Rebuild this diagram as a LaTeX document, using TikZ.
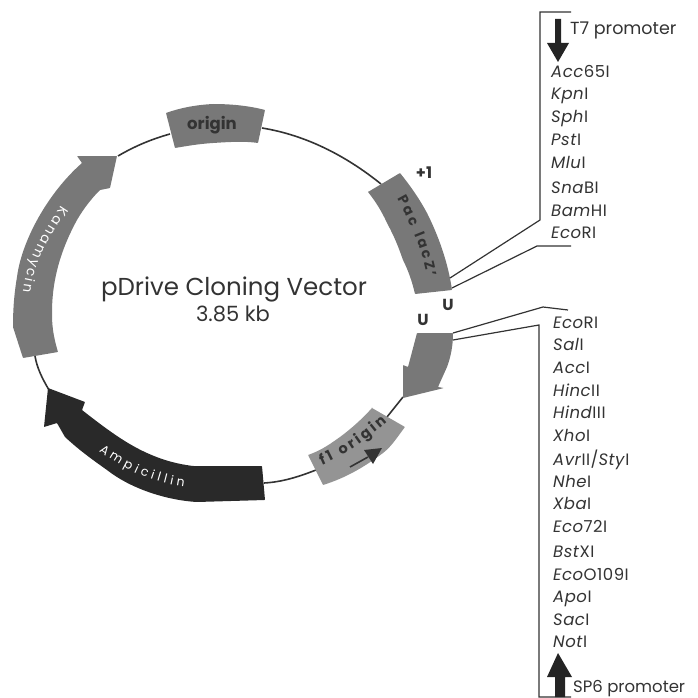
\documentclass[tikz,border=0pt]{standalone}
\usepackage{fontspec}
\setmainfont{Poppins}
\usetikzlibrary{decorations.text}
\definecolor{band}{gray}{0.47}
\definecolor{bandlight}{gray}{0.58}
\definecolor{bandblack}{gray}{0.16}
\definecolor{ink}{gray}{0.2}
\tikzset{
  backbone/.style={line width=1.6pt,draw=ink},
  feature/.style={fill=band,draw=none,rounded corners=0.6pt},
  leader/.style={line width=1.2pt,draw=ink},
  enzyme/.style={anchor=base west,inner sep=0pt,yshift=-5pt,font=\fontsize{16.5}{18}\selectfont\addfontfeatures{LetterSpace=3},text=ink},
  promoter/.style={anchor=base west,inner sep=0pt,yshift=-5pt,font=\fontsize{17.5}{20}\selectfont,text=ink},
  marker/.style={inner sep=0pt,font=\fontsize{16}{18}\selectfont\bfseries,text=ink}
}
\newcommand{\Ez}[2]{\textit{#1}#2}
\begin{document}
\begin{tikzpicture}[x=1pt,y=-1pt]
\useasboundingbox (0,0) rectangle (697,698);
% backbone
\draw[backbone] (262,128) .. controls (305,135) and (345,155) .. (381,184);
\draw[backbone] (170,134) .. controls (152,139) and (135,146) .. (118,156);
\draw[backbone] (35,356) .. controls (37,368) and (42,378) .. (49,390);
\draw[backbone] (264,483) .. controls (282,482) and (298,477) .. (316,470);
\draw[backbone] (387,417) -- (403,397);
% features
\path[feature] (166,113) .. controls (180,108) and (195,105) .. (213,104) .. controls (232,104) and (250,106) .. (265,110) -- (258,143) .. controls (245,141) and (228,142) .. (213,143) .. controls (198,144) and (187,146) .. (175,148) -- cycle;
\path[feature] (117,156) -- (77,156) -- (82,163) .. controls (48,193) and (22,240) .. (17,277) .. controls (14,295) and (13,310) .. (13,327) -- (23,358) -- (58,352) .. controls (53,335) and (52,325) .. (52,313) .. controls (52,285) and (58,255) .. (77,220) .. controls (84,208) and (92,198) .. (100,190) -- (110,188) -- cycle;
\path[feature,fill=bandblack] (48,388) -- (85,402) -- (82,410) .. controls (105,428) and (125,443) .. (147,453) .. controls (165,461) and (178,464) .. (193,466) -- (262,466) -- (265,500) -- (197,502) .. controls (165,500) and (130,488) .. (107,470) .. controls (90,458) and (78,449) .. (65,437) -- (57,423) -- (44,427) -- cycle;
\path[feature,fill=bandlight] (372,408) -- (405,427) .. controls (398,436) and (392,446) .. (383,453) .. controls (363,468) and (345,478) .. (323,485) -- (308,455) .. controls (322,450) and (330,444) .. (340,437) .. controls (352,428) and (362,419) .. (372,408) -- cycle;
\path[feature] (368,192) -- (400,173) .. controls (412,188) and (420,200) .. (427,213) .. controls (438,235) and (448,262) .. (452,290) -- (415,294) .. controls (412,281) and (408,270) .. (403,260) .. controls (398,246) and (395,238) .. (387,223) .. controls (382,212) and (376,202) .. (368,192) -- cycle;
\path[feature] (417,333) -- (453,333) .. controls (453,345) and (451,356) .. (447,367) -- (438,387) -- (444,388) -- (403,398) -- (403,365) -- (408,367) -- cycle;
% feature labels
\node[inner sep=0pt,font=\fontsize{16.5}{18}\selectfont\bfseries,text=ink] (orig) at (212,125) {origin};
\path[decorate,decoration={text along path,text align={fit to path},text={|\fontsize{13.5}{15}\selectfont\color{white}|Kanamycin}}]
  (61,206) .. controls (42,235) and (27,258) .. (23,292);
\path[decorate,decoration={text along path,text align={fit to path},text={|\fontsize{12.5}{15}\selectfont\color{white}|Ampicillin}}]
  (99,451) .. controls (125,470) and (150,482) .. (184,487);
\path[decorate,decoration={text along path,text align={fit to path},text={|\fontsize{14}{15}\selectfont\bfseries\color{ink}|Pac lacZ'}}]
  (397,199) .. controls (410,222) and (422,248) .. (427,277);
\path[decorate,decoration={text along path,text align={fit to path},text={|\fontsize{14.5}{17}\selectfont\bfseries\color{ink}|f1 origin}}]
  (322,465) .. controls (345,455) and (365,441) .. (387,422);
\draw[line width=1.6pt,draw=ink] (350,467) -- (368,457);
\fill[ink] (382,448) -- (373,464) -- (364,450) -- cycle;
\node[marker] (plus) at (424,173) {+1};
\node[marker] (uA) at (448,305) {U};
\node[marker] (uB) at (423,320) {U};
% centre
\node[inner sep=0pt,font=\fontsize{24.5}{26}\selectfont,text=ink] (title) at (234,289) {pDrive Cloning Vector};
\node[inner sep=0pt,font=\fontsize{21}{22}\selectfont,text=ink] (size) at (233,314) {3.85 kb};
% leaders
\coordinate (pa) at (450,278); \coordinate (pb) at (452,288);
\coordinate (qa) at (453,333); \coordinate (qb) at (453,340);
\draw[leader] (pa) -- (540,220) -- (540,12) -- (571,12);
\draw[leader] (pb) -- (537,246) -- (571,246);
\draw[leader] (qa) -- (543,307) -- (568,310);
\draw[leader] (qb) -- (539,325) -- (539,697) -- (571,697);
% block arrows
\fill[ink!70!black] (555,19) -- (561,19) -- (561,43) -- (569,43) -- (558,62) -- (547,43) -- (555,43) -- cycle;
\fill[ink!70!black] (558,653) -- (572,677) -- (565,677) -- (565,697) -- (555,697) -- (555,677) -- (547,677) -- cycle;
\node[promoter] (t7) at (570,30) {T7 promoter};
\node[promoter,font=\fontsize{16.5}{20}\selectfont] (sp6) at (573,687) {SP6 promoter};
% enzymes top
\node[enzyme] (a1) at (551,73) {\Ez{Acc}{65I}};
\node[enzyme] (a2) at (551,95) {\Ez{Kpn}{I}};
\node[enzyme] (a3) at (551,118) {\Ez{Sph}{I}};
\node[enzyme] (a4) at (551,140) {\Ez{Pst}{I}};
\node[enzyme] (a5) at (551,163) {\Ez{Mlu}{I}};
\node[enzyme] (a6) at (551,188) {\Ez{Sna}{BI}};
\node[enzyme] (a7) at (551,211) {\Ez{Bam}{HI}};
\node[enzyme] (a8) at (551,233) {\Ez{Eco}{RI}};
% enzymes bottom
\node[enzyme] (b1) at (553,323) {\Ez{Eco}{RI}};
\node[enzyme] (b2) at (553,345) {\Ez{Sal}{I}};
\node[enzyme] (b3) at (553,368) {\Ez{Acc}{I}};
\node[enzyme] (b4) at (553,391) {\Ez{Hinc}{II}};
\node[enzyme] (b5) at (553,413) {\Ez{Hind}{III}};
\node[enzyme] (b6) at (553,436) {\Ez{Xho}{I}};
\node[enzyme] (b7) at (553,460) {\Ez{Avr}{II}/\Ez{Sty}{I}};
\node[enzyme] (b8) at (553,482) {\Ez{Nhe}{I}};
\node[enzyme] (b9) at (553,504) {\Ez{Xba}{I}};
\node[enzyme] (b10) at (553,527) {\Ez{Eco}{72I}};
\node[enzyme] (b11) at (553,552) {\Ez{Bst}{XI}};
\node[enzyme] (b12) at (553,575) {\Ez{Eco}{O109I}};
\node[enzyme] (b13) at (553,597) {\Ez{Apo}{I}};
\node[enzyme] (b14) at (553,620) {\Ez{Sac}{I}};
\node[enzyme] (b15) at (553,642) {\Ez{Not}{I}};
\end{tikzpicture}
\end{document}
